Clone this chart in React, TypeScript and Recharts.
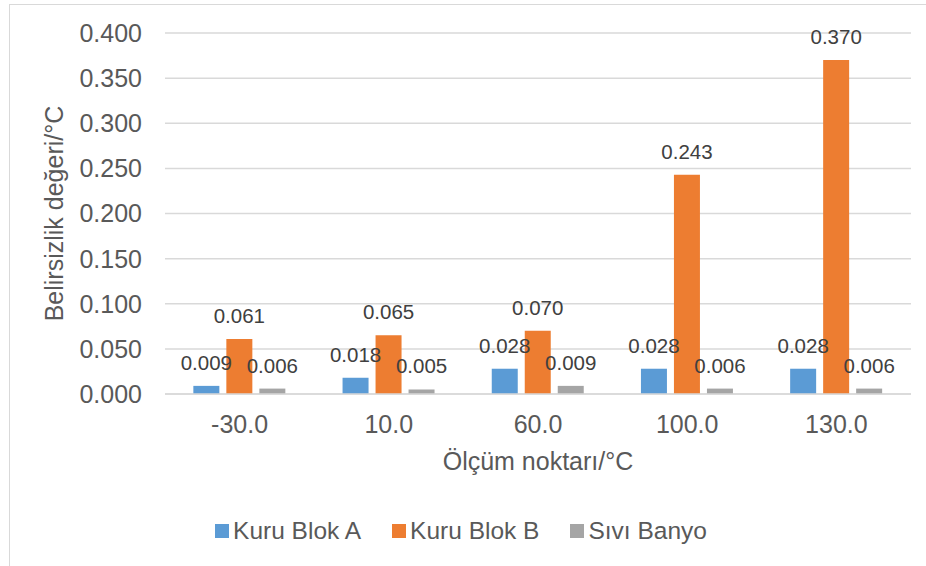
import { BarChart, Bar, XAxis, YAxis, CartesianGrid, Legend, LabelList, Label } from 'recharts'

const categories = ['-30.0', '10.0', '60.0', '100.0', '130.0']
const kuruBlokA = [0.009, 0.018, 0.028, 0.028, 0.028]
const kuruBlokB = [0.061, 0.065, 0.07, 0.243, 0.37]
const siviBanyo = [0.006, 0.005, 0.009, 0.006, 0.006]
const yTicks = [0, 0.05, 0.1, 0.15, 0.2, 0.25, 0.3, 0.35, 0.4]

const seriesInfo = [
  { key: 'a', name: 'Kuru Blok A', color: '#5B9BD5' },
  { key: 'b', name: 'Kuru Blok B', color: '#ED7D31' },
  { key: 'c', name: 'Sıvı Banyo', color: '#A5A5A5' },
]

const data = categories.map((c, i) => ({
  cat: c,
  a: kuruBlokA[i],
  b: kuruBlokB[i],
  c: siviBanyo[i],
}))

const font = 'Liberation Sans, Arial, sans-serif'
const fmt = (v: any) => Number(v).toFixed(3)

const LegendContent = () => (
  <div
    style={{
      display: 'flex',
      justifyContent: 'center',
      gap: 31,
      fontFamily: font,
      fontSize: 24.5,
      color: '#595959',
      paddingLeft: 11,
      height: 26,
      alignItems: 'center',
    }}
  >
    {seriesInfo.map((s) => (
      <div key={s.key} style={{ display: 'flex', alignItems: 'center' }}>
        <span style={{ width: 14, height: 14, background: s.color, marginRight: 4, display: 'inline-block' }} />
        <span>{s.name}</span>
      </div>
    ))}
  </div>
)

export default function App() {
  return (
    <div style={{ position: 'absolute', left: 0, top: 0, width: 926, height: 566, background: '#fff', overflow: 'hidden' }}>
      <div
        style={{
          position: 'absolute',
          left: 9,
          top: 4,
          width: 1000,
          height: 700,
          border: '1px solid #d9d9d9',
        }}
      />
      <BarChart
        width={926}
        height={566}
        data={data}
        margin={{ top: 33, right: 15, left: 0, bottom: 22 }}
        barGap={7}
        barCategoryGap="19%"
        style={{ position: 'absolute', left: 0, top: 0 }}
      >
        <CartesianGrid vertical={false} stroke="#d9d9d9" strokeWidth={1.5} />
        <XAxis
          dataKey="cat"
          height={124}
          tickLine={false}
          axisLine={{ stroke: '#d9d9d9', strokeWidth: 1.5 }}
          tickMargin={15}
          tick={{ fill: '#595959', fontSize: 25, fontFamily: font }}
        >
          <Label
            value="Ölçüm noktarı/°C"
            position="insideTop"
            offset={58}
            style={{ fill: '#595959', fontSize: 25, fontFamily: font }}
          />
        </XAxis>
        <YAxis
          width={165}
          domain={[0, 0.4]}
          ticks={yTicks}
          tickFormatter={fmt}
          tickLine={false}
          axisLine={false}
          tickMargin={17}
          tick={{ fill: '#595959', fontSize: 25, fontFamily: font }}
        >
          <Label
            value="Belirsizlik değeri/°C"
            angle={-90}
            position="insideLeft"
            offset={54}
            style={{ fill: '#595959', fontSize: 25, fontFamily: font, textAnchor: 'middle' }}
          />
        </YAxis>
        <Legend verticalAlign="bottom" content={<LegendContent />} />
        {seriesInfo.map((s) => (
          <Bar key={s.key} dataKey={s.key} name={s.name} fill={s.color} isAnimationActive={false}>
            <LabelList
              dataKey={s.key}
              position="top"
              offset={16}
              formatter={fmt}
              style={{ fill: '#404040', fontSize: 20.5, fontFamily: font }}
            />
          </Bar>
        ))}
      </BarChart>
    </div>
  )
}
